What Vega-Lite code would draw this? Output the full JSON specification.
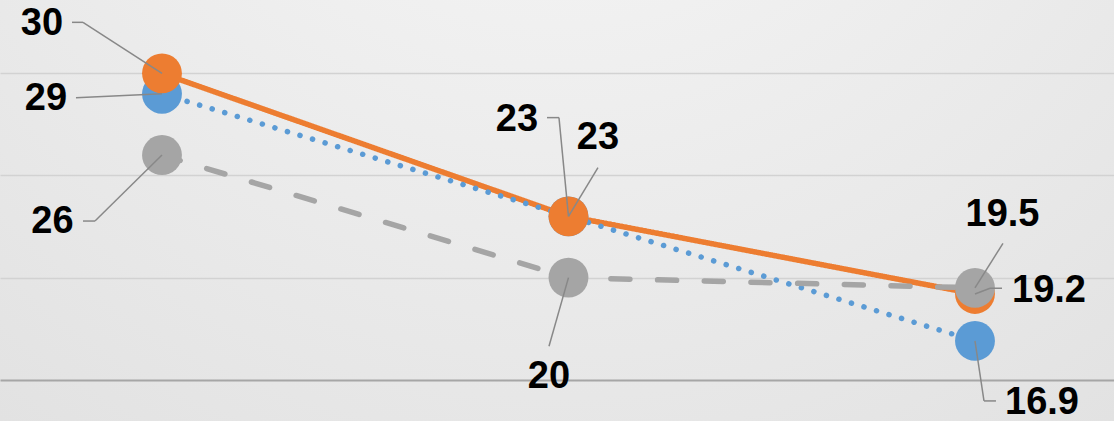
{
  "$schema": "https://vega.github.io/schema/vega-lite/v6.json",
  "width": 1114,
  "height": 422,
  "padding": 0,
  "autosize": {"type": "fit", "contains": "padding"},
  "config": {
    "view": {
      "stroke": null,
      "fill": {"gradient": "radial", "x1": 0.5, "y1": 0, "r1": 0, "x2": 0.5, "y2": 0, "r2": 1,
        "stops": [{"offset": 0, "color": "#f9f9f9"}, {"offset": 1, "color": "#dedede"}]}
    }
  },
  "data": {
    "values": [
      {"series": "Series2", "i": 0, "value": 30, "id": "o0"},
      {"series": "Series2", "i": 1, "value": 23, "id": "o1"},
      {"series": "Series2", "i": 2, "value": 19.2, "id": "o2"},
      {"series": "Series1", "i": 0, "value": 29, "id": "b0"},
      {"series": "Series1", "i": 1, "value": 23, "id": "b1"},
      {"series": "Series1", "i": 2, "value": 16.9, "id": "b2"},
      {"series": "Series3", "i": 0, "value": 26, "id": "g0"},
      {"series": "Series3", "i": 1, "value": 20, "id": "g1"},
      {"series": "Series3", "i": 2, "value": 19.5, "id": "g2"}
    ]
  },
  "encoding": {
    "x": {"field": "i", "type": "quantitative", "scale": {"domain": [-0.3985, 2.342], "nice": false, "zero": false}, "axis": null},
    "y": {"field": "value", "type": "quantitative", "scale": {"domain": [12.98, 33.59], "nice": false, "zero": false},
      "axis": {"title": null, "labels": false, "ticks": false, "domain": false, "grid": true, "values": [15, 20, 25, 30],
        "gridColor": {"condition": {"test": "datum.value === 15", "value": "#a6a6a6"}, "value": "#d2d2d2"},
        "gridWidth": {"condition": {"test": "datum.value === 15", "value": 2.2}, "value": 1.5}}}
  },
  "layer": [
    {
      "mark": {"type": "line", "strokeWidth": 5.5, "strokeCap": "round", "strokeJoin": "round"},
      "encoding": {
        "color": {"field": "series", "type": "nominal", "scale": {"domain": ["Series1", "Series2", "Series3"], "range": ["#5b9bd5", "#ed7d31", "#a5a5a5"]}, "legend": null},
        "strokeDash": {"field": "series", "type": "nominal", "scale": {"domain": ["Series1", "Series2", "Series3"], "range": [[0.1, 13], [1, 0], [19, 27.7]]}, "legend": null}
      }
    },
    {
      "mark": {"type": "circle", "size": 1590, "opacity": 1},
      "encoding": {
        "color": {"field": "series", "type": "nominal", "legend": null},
        "order": {"field": "series", "sort": "ascending"}
      }
    },
    {
      "mark": {"type": "rule", "stroke": "#888888", "strokeWidth": 1.5,
        "xOffset": {"expr": "({'o0':-79,'b0':-86,'g0':-67,'b1':-9.5,'o1':29.5,'g1':-19.5,'g2':28,'o2':15,'b2':9})[datum.id]"},
        "yOffset": {"expr": "({'o0':-51,'b0':4,'g0':66,'b1':-98.7,'o1':-48.7,'g1':68.7,'g2':-44.5,'o2':-5.7,'b2':60})[datum.id]"}},
      "encoding": {
        "x2": {"field": "i"},
        "y2": {"field": "value"}
      }
    },
    {
      "mark": {"type": "rule", "stroke": "#888888", "strokeWidth": 1.5,
        "xOffset": {"expr": "({'o0':-79,'b0':-86,'g0':-67,'b1':-9.5,'o1':29.5,'g1':-19.5,'g2':28,'o2':15,'b2':9})[datum.id]"},
        "yOffset": {"expr": "({'o0':-51,'b0':4,'g0':66,'b1':-98.7,'o1':-48.7,'g1':68.7,'g2':-44.5,'o2':-5.7,'b2':60})[datum.id]"},
        "x2Offset": {"expr": "({'o0':-90,'b0':-86,'g0':-79,'b1':-21.5,'o1':29.5,'g1':-19.5,'g2':28,'o2':27,'b2':21})[datum.id]"},
        "y2Offset": {"expr": "({'o0':-51,'b0':4,'g0':66,'b1':-98.7,'o1':-48.7,'g1':68.7,'g2':-44.5,'o2':-5.7,'b2':60})[datum.id]"}},
      "encoding": {
        "x2": {"field": "i"},
        "y2": {"field": "value"}
      }
    },
    {
      "mark": {"type": "text", "font": "Liberation Sans", "fontWeight": "bold", "fontSize": 38, "fill": "#000000", "align": "center", "baseline": "middle",
        "dx": {"expr": "({'o0':-120,'b0':-116,'g0':-109.5,'b1':-51.5,'o1':29.5,'g1':-19.5,'g2':27.5,'o2':74,'b2':67})[datum.id]"},
        "dy": {"expr": "({'o0':-49.5,'b0':5,'g0':66.5,'b1':-96,'o1':-78,'g1':99,'g2':-72.5,'o2':-2.7,'b2':62})[datum.id]"}},
      "encoding": {
        "text": {"field": "value", "type": "nominal"}
      }
    }
  ]
}
